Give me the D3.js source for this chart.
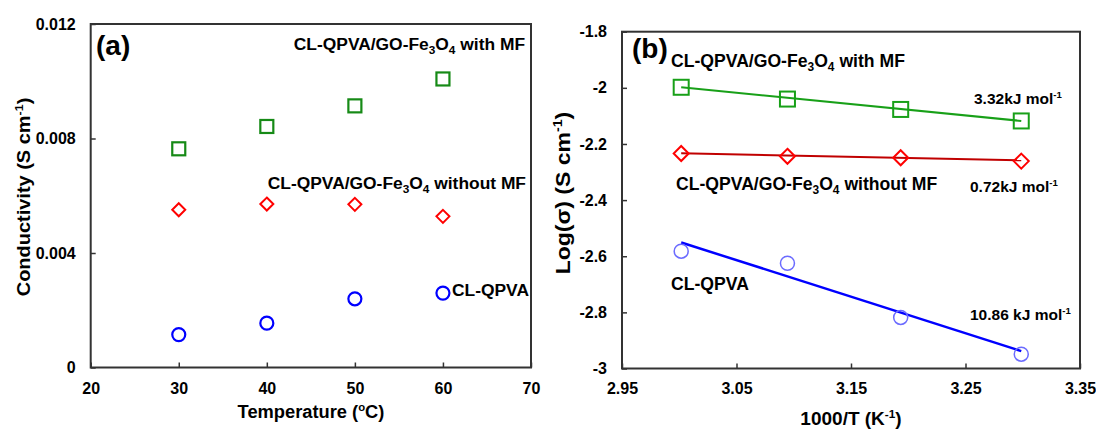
<!DOCTYPE html>
<html><head><meta charset="utf-8">
<script src="https://cdn.jsdelivr.net/npm/d3@7"></script>
<style>
html,body{margin:0;padding:0;background:#fff;}
svg{display:block;font-family:"Liberation Sans",Arial,sans-serif;font-weight:bold;}
</style></head>
<body>
<svg id="chart" width="1096" height="430"></svg>
<script>
// ---- Data (panel a) ----
const temperatures = [30, 40, 50, 60];
const condWithMF    = [0.00764, 0.00842, 0.00914, 0.01008];
const condWithoutMF = [0.00551, 0.00571, 0.00570, 0.00528];
const condCLQPVA    = [0.00115, 0.00155, 0.00240, 0.00260];
const xTicksA = [20, 30, 40, 50, 60, 70];
const yTicksA = [0, 0.004, 0.008, 0.012];
const yTickLabelsA = ["0", "0.004", "0.008", "0.012"];

// ---- Data (panel b) ----
const invT = [3.0017, 3.0945, 3.1934, 3.2987];
const logWithMF    = [-1.998, -2.040, -2.077, -2.118];
const logWithoutMF = [-2.234, -2.244, -2.249, -2.261];
const logCLQPVA    = [-2.582, -2.625, -2.818, -2.949];
const fitX = [3.0017, 3.2987];
const fitWithMF    = [-1.998, -2.118];
const fitWithoutMF = [-2.233, -2.258];
const fitCLQPVA    = [-2.551, -2.938];
const xTicksB = [2.95, 3.05, 3.15, 3.25, 3.35];
const yTicksB = [-3, -2.8, -2.6, -2.4, -2.2, -2, -1.8];

const svg = d3.select("#chart");
const axisColor = "#333";

function styleAxis(g){
  g.select(".domain").remove();
  g.selectAll(".tick line").attr("stroke", axisColor).attr("stroke-width", 1.5);
  g.selectAll(".tick text").attr("fill", "#000").style("font-size","16px").style("font-weight","bold")
    .style("font-family",'"Liberation Sans",Arial,sans-serif');
}

function richText(sel, parts, size){
  const t = sel.style("font-size", size+"px");
  let shift = 0;
  parts.forEach(([s, type])=>{
    const ts = t.append("tspan").text(s);
    let target = 0;
    if(type==="sub"){ ts.style("font-size",(size*0.68)+"px"); target = size*0.25; }
    else if(type==="sup"){ ts.style("font-size",(size*0.62)+"px"); target = -size*0.38; }
    const dy = target - shift;
    if(dy!==0) ts.attr("dy", dy);
    shift = target;
  });
  return t;
}
const fe = (tail)=>[["CL-QPVA/GO-Fe","n"],["3","sub"],["O","n"],["4","sub"],[tail,"n"]];

// ================= Panel (a) =================
const xA = d3.scaleLinear().domain([20,70]).range([90.7, 531]);
const yA = d3.scaleLinear().domain([0,0.012]).range([367.5, 24]);
const gA = svg.append("g");

gA.append("g").attr("transform",`translate(0,${yA(0)})`)
  .call(d3.axisBottom(xA).tickValues(xTicksA).tickSize(-5).tickPadding(15).tickFormat(d3.format("d")))
  .call(styleAxis);
gA.append("g").attr("transform",`translate(${xA(20)},0)`)
  .call(d3.axisLeft(yA).tickValues(yTicksA).tickSize(-5).tickPadding(15).tickFormat((d,i)=>yTickLabelsA[i]))
  .call(styleAxis);
gA.append("rect").attr("x",xA(20)).attr("y",yA(0.012)).attr("width",xA(70)-xA(20)).attr("height",yA(0)-yA(0.012))
  .attr("fill","none").attr("stroke",axisColor).attr("stroke-width",2);

const sqA = 13, dmA = 6.5, rA = 6.5;
gA.selectAll(".sqA").data(temperatures).join("rect")
  .attr("x",(d)=>xA(d)-sqA/2).attr("y",(d,i)=>yA(condWithMF[i])-sqA/2).attr("width",sqA).attr("height",sqA)
  .attr("fill","none").attr("stroke","#168a16").attr("stroke-width",2.2);
gA.selectAll(".dmA").data(temperatures).join("path")
  .attr("d",(d,i)=>{const cx=xA(d), cy=yA(condWithoutMF[i]); return `M${cx},${cy-dmA}L${cx+dmA},${cy}L${cx},${cy+dmA}L${cx-dmA},${cy}Z`;})
  .attr("fill","none").attr("stroke","#ff0000").attr("stroke-width",2);
gA.selectAll(".ciA").data(temperatures).join("circle")
  .attr("cx",(d)=>xA(d)).attr("cy",(d,i)=>yA(condCLQPVA[i])).attr("r",rA)
  .attr("fill","none").attr("stroke","#0000ff").attr("stroke-width",2.2);

gA.append("text").attr("x",96).attr("y",55).style("font-size","28px").text("(a)");
richText(gA.append("text").attr("text-anchor","end").attr("x",525).attr("y",50), fe(" with MF"), 17.4);
richText(gA.append("text").attr("text-anchor","end").attr("x",526).attr("y",189), fe(" without MF"), 17.4);
gA.append("text").attr("x",452).attr("y",296).style("font-size","17.4px").text("CL-QPVA");

richText(gA.append("text").attr("text-anchor","middle").attr("x",311).attr("y",418),
  [["Temperature (","n"],["o","sup"],["C)","n"]], 18.3);
richText(gA.append("text").attr("text-anchor","middle").attr("transform","translate(30,197) rotate(-90) scale(1.08,1)"),
  [["Conductivity (S cm","n"],["-1","sup"],[")","n"]], 18.5);

// ================= Panel (b) =================
const xB = d3.scaleLinear().domain([2.95,3.35]).range([622, 1080]);
const yB = d3.scaleLinear().domain([-3,-1.8]).range([368.5, 31.7]);
const gB = svg.append("g");

gB.append("g").attr("transform",`translate(0,${yB(-3)})`)
  .call(d3.axisBottom(xB).tickValues(xTicksB).tickSize(-5).tickPadding(14).tickFormat(d3.format(".2f")))
  .call(styleAxis);
gB.append("g").attr("transform",`translate(${xB(2.95)},0)`)
  .call(d3.axisLeft(yB).tickValues(yTicksB).tickSize(-5).tickPadding(15).tickFormat(d=>String(+d.toFixed(1))))
  .call(styleAxis);
gB.append("rect").attr("x",xB(2.95)).attr("y",yB(-1.8)).attr("width",xB(3.35)-xB(2.95)).attr("height",yB(-3)-yB(-1.8))
  .attr("fill","none").attr("stroke",axisColor).attr("stroke-width",2);

const line = d3.line().x(d=>xB(d[0])).y(d=>yB(d[1]));
gB.append("path").attr("d",line(fitX.map((x,i)=>[x,fitWithMF[i]]))).attr("stroke","#18a018").attr("stroke-width",2).attr("fill","none");
gB.append("path").attr("d",line(fitX.map((x,i)=>[x,fitWithoutMF[i]]))).attr("stroke","#c00000").attr("stroke-width",2).attr("fill","none");
gB.append("path").attr("d",line(fitX.map((x,i)=>[x,fitCLQPVA[i]]))).attr("stroke","#0000ff").attr("stroke-width",2.5).attr("fill","none");

const sqB = 15, dmB = 7.5, rB = 7;
gB.selectAll(".sqB").data(invT).join("rect")
  .attr("x",(d)=>xB(d)-sqB/2).attr("y",(d,i)=>yB(logWithMF[i])-sqB/2).attr("width",sqB).attr("height",sqB)
  .attr("fill","none").attr("stroke","#18a018").attr("stroke-width",2);
gB.selectAll(".dmB").data(invT).join("path")
  .attr("d",(d,i)=>{const cx=xB(d), cy=yB(logWithoutMF[i]); return `M${cx},${cy-dmB}L${cx+dmB},${cy}L${cx},${cy+dmB}L${cx-dmB},${cy}Z`;})
  .attr("fill","none").attr("stroke","#ff0000").attr("stroke-width",2);
gB.selectAll(".ciB").data(invT).join("circle")
  .attr("cx",(d)=>xB(d)).attr("cy",(d,i)=>yB(logCLQPVA[i])).attr("r",rB)
  .attr("fill","none").attr("stroke","#6b6bff").attr("stroke-width",1.5);

gB.append("text").attr("x",632).attr("y",58).style("font-size","28px").text("(b)");
richText(gB.append("text").attr("x",671).attr("y",67), fe(" with MF"), 17.6);
richText(gB.append("text").attr("x",676).attr("y",190), fe(" without MF"), 17.6);
gB.append("text").attr("x",671).attr("y",290).style("font-size","17.6px").text("CL-QPVA");
richText(gB.append("text").attr("x",974).attr("y",104), [["3.32kJ mol","n"],["-1","sup"]], 15.5);
richText(gB.append("text").attr("x",970).attr("y",192), [["0.72kJ mol","n"],["-1","sup"]], 15.5);
richText(gB.append("text").attr("x",970).attr("y",320), [["10.86 kJ mol","n"],["-1","sup"]], 15.5);

richText(gB.append("text").attr("text-anchor","middle").attr("x",851).attr("y",425),
  [["1000/T (K","n"],["-1","sup"],[")","n"]], 19);
richText(gB.append("text").attr("text-anchor","middle").attr("transform","translate(570,193) rotate(-90) scale(1.15,1)"),
  [["Log(σ) (S cm","n"],["-1","sup"],[")","n"]], 20);
</script>
</body></html>
